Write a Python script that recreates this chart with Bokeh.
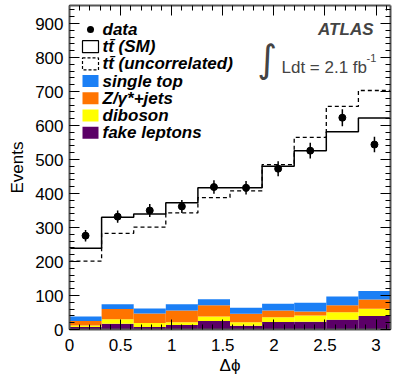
import numpy as np
from bokeh.plotting import figure
from bokeh.models import (Range1d, LinearAxis, SingleIntervalTicker,
                          CustomJSTickFormatter, Label, BoxAnnotation)
from bokeh.embed import file_html
from bokeh.resources import INLINE

# ---------------- data ----------------
n_bins = 10
dphi_max = np.pi
data_counts = [276, 332, 350, 362, 419, 417, 473, 526, 623, 544]
data_errors = [17, 18, 19, 19, 20, 20, 22, 23, 25, 23]
ttbar_sm = [239, 330, 340, 373, 417, 417, 480, 526, 582, 622]
ttbar_uncorr = [201, 283, 301, 343, 388, 408, 485, 565, 656, 703]
fake_leptons = [7, 17, 7, 13, 25, 11, 22, 23, 29, 40]
diboson = [5, 13, 12, 8, 13, 10, 14, 18, 22, 21]
zjets = [13, 30, 28, 35, 33, 25, 20, 12, 20, 27]
single_top = [13, 14, 15, 18, 18, 18, 20, 26, 26, 25]

legend_labels = ["data", "tt\u0304 (SM)", "tt\u0304 (uncorrelated)", "single top",
                 "Z/\u03b3*+jets", "diboson", "fake leptons"]

FONT = "Liberation Sans"

edges = np.linspace(0, dphi_max, n_bins + 1)
lefts, rights = edges[:-1], edges[1:]
centers = 0.5 * (lefts + rights)

p = figure(width=398, height=383, output_backend="svg", toolbar_location=None,
           x_range=Range1d(0, dphi_max), y_range=Range1d(0, 953),
           min_border_left=69, min_border_right=8, min_border_top=5,
           min_border_bottom=54, x_axis_type=None, y_axis_type=None)
p.grid.visible = False
p.outline_line_color = None
p.background_fill_color = "white"

# ---------------- stacked backgrounds ----------------
stack_series = [fake_leptons, diboson, zjets, single_top]
stack_colors = ["#5b0067", "#ffff00", "#ff7400", "#1b7ff5"]
bottom = np.zeros(n_bins)
for vals, col in zip(stack_series, stack_colors):
    top = bottom + np.array(vals, dtype=float)
    p.quad(left=lefts, right=rights, bottom=bottom, top=top,
           fill_color=col, line_color=None)
    bottom = top

# ---------------- ttbar predictions ----------------
sm = np.array(ttbar_sm, dtype=float)
unc = np.array(ttbar_uncorr, dtype=float)
p.step(x=edges, y=np.append(sm, sm[-1]), mode="after", line_color="black", line_width=1.5)
p.step(x=edges, y=np.append(unc, unc[-1]), mode="after", line_color="black",
       line_width=1.3, line_dash="4 3")

# ---------------- data ----------------
dc = np.array(data_counts, dtype=float)
de = np.array(data_errors, dtype=float)
p.segment(x0=centers, x1=centers, y0=dc - de, y1=dc + de, line_color="black", line_width=1.5)
p.scatter(x=centers, y=dc, size=7, color="black")

# ---------------- axes ----------------
fmt_x = CustomJSTickFormatter(code="return tick.toFixed(1).replace(/\\.0$/, '')")
fmt_y = CustomJSTickFormatter(code="return tick.toFixed(0)")
blank = CustomJSTickFormatter(code="return ''")


def style(ax, labels=True):
    ax.axis_line_color = "#555555"
    ax.axis_line_width = 2
    ax.major_tick_in = 10
    ax.major_tick_out = 0
    ax.minor_tick_in = 5
    ax.minor_tick_out = 0
    ax.major_tick_line_color = "black"
    ax.minor_tick_line_color = "black"
    ax.major_label_text_font = FONT
    ax.major_label_text_color = "black"
    ax.axis_label_text_font = FONT
    ax.axis_label_text_font_style = "normal"
    ax.axis_label_text_font_size = "17px"
    ax.axis_label_text_color = "black"
    if labels:
        ax.major_label_text_font_size = "17px"
    else:
        ax.major_label_text_font_size = "0px"
        ax.major_label_standoff = 0


xb = LinearAxis(ticker=SingleIntervalTicker(interval=0.5, num_minor_ticks=5),
                formatter=fmt_x, axis_label="\u0394\u03d5")
style(xb)
xb.major_label_standoff = 9
xb.axis_label_standoff = 2
xt = LinearAxis(ticker=SingleIntervalTicker(interval=0.5, num_minor_ticks=5), formatter=blank)
style(xt, labels=False)
yl = LinearAxis(ticker=SingleIntervalTicker(interval=100, num_minor_ticks=5),
                formatter=fmt_y, axis_label="Events")
style(yl)
yl.major_label_standoff = 6
yl.axis_label_standoff = 5
yr = LinearAxis(ticker=SingleIntervalTicker(interval=100, num_minor_ticks=5), formatter=blank)
style(yr, labels=False)
p.add_layout(xb, "below")
p.add_layout(xt, "above")
p.add_layout(yl, "left")
p.add_layout(yr, "right")

# ---------------- legend (drawn as annotations, frame-relative screen units) ----------------
row0, stride = 300.0, 17.2          # row centres measured from frame bottom
sw_left, sw_w, sw_h, txt_x = 13, 16, 12, 33
swatch_styles = [
    None,                                                     # data: dot
    dict(fill_alpha=0, line_color="black", line_alpha=1, line_width=1.2),
    dict(fill_alpha=0, line_color="black", line_alpha=1, line_width=1.2, line_dash="3 2"),
    dict(fill_color=stack_colors[3], fill_alpha=1, line_alpha=0),
    dict(fill_color=stack_colors[2], fill_alpha=1, line_alpha=0),
    dict(fill_color=stack_colors[1], fill_alpha=1, line_alpha=0),
    dict(fill_color=stack_colors[0], fill_alpha=1, line_alpha=0),
]
for i, (lab, st) in enumerate(zip(legend_labels, swatch_styles)):
    yc = row0 - i * stride
    if st is None:
        r = 3.5
        cx = sw_left + sw_w / 2
        box = BoxAnnotation(left=cx - r, right=cx + r, bottom=yc - r, top=yc + r,
                            left_units="screen", right_units="screen",
                            top_units="screen", bottom_units="screen",
                            fill_color="black", fill_alpha=1, line_alpha=0,
                            border_radius=4)
    else:
        box = BoxAnnotation(left=sw_left, right=sw_left + sw_w,
                            bottom=yc - sw_h / 2, top=yc + sw_h / 2,
                            left_units="screen", right_units="screen",
                            top_units="screen", bottom_units="screen", **st)
    p.add_layout(box)
    p.add_layout(Label(x=txt_x, y=yc, x_units="screen", y_units="screen", text=lab,
                       text_baseline="middle", text_font=FONT, text_font_size="17px",
                       text_font_style="bold italic", text_color="black"))

# ---------------- annotations ----------------
p.add_layout(Label(x=304, y=300, x_units="screen", y_units="screen", text="ATLAS",
                   text_align="right", text_baseline="alphabetic", text_font=FONT,
                   text_font_size="17px", text_font_style="bold italic"))
p.add_layout(Label(x=198, y=271, x_units="screen", y_units="screen", text="\u222b",
                   text_align="center", text_baseline="middle", text_font="DejaVu Sans",
                   text_font_size="38px"))
p.add_layout(Label(x=212, y=262, x_units="screen", y_units="screen", text="Ldt = 2.1 fb",
                   text_baseline="alphabetic", text_font=FONT, text_font_size="17px"))
p.add_layout(Label(x=297, y=272, x_units="screen", y_units="screen", text="-1",
                   text_baseline="alphabetic", text_font=FONT, text_font_size="11px"))

open("out.html", "w").write(file_html(p, INLINE))
